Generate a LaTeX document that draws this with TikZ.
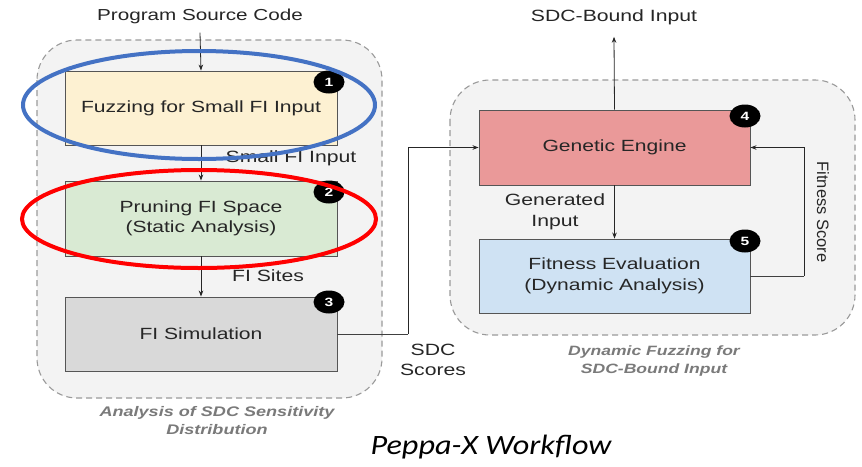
\documentclass[tikz,border=0pt]{standalone}
\usepackage{fontspec}
\setmainfont[FakeStretch=1.3]{Liberation Sans}
\newfontfamily\plainsans{Liberation Sans}
\newfontfamily\capfont[FakeStretch=1.15]{Carlito}
\usetikzlibrary{arrows.meta,calc,shapes.geometric}
\definecolor{panelfill}{HTML}{F3F3F3}
\definecolor{panelline}{HTML}{9A9A9A}
\definecolor{fuzzfill}{HTML}{FDF1D2}
\definecolor{prunefill}{HTML}{D9EAD3}
\definecolor{simfill}{HTML}{D9D9D9}
\definecolor{genfill}{HTML}{EA9999}
\definecolor{evalfill}{HTML}{CFE2F3}
\definecolor{boxline}{HTML}{555555}
\definecolor{capgray}{HTML}{7A7A7A}
\definecolor{ringblue}{HTML}{4472C4}
\definecolor{ringred}{HTML}{FF0000}
\tikzset{
  panel/.style={draw=panelline, fill=panelfill, line width=1.1pt, dash pattern=on 6pt off 4pt, rounded corners=40pt},
  stagebox/.style={draw=boxline, line width=0.9pt, minimum width=272pt, minimum height=74pt, align=center, inner sep=0pt,
    font=\fontsize{16.2}{20.5}\selectfont, text=black!85},
  badge/.style={ellipse, fill=black, text=white, minimum width=31pt, minimum height=23pt, inner sep=0pt,
    font=\bfseries\fontsize{12}{12}\selectfont},
  lbl/.style={font=\fontsize{16.3}{20.5}\selectfont, text=black!85, align=center, inner sep=0pt},
  groupcap/.style={font=\bfseries\itshape\fontsize{13.5}{17.5}\selectfont, text=capgray, align=center, inner sep=0pt},
  arr/.style={draw=black!85, line width=0.8pt, -{Stealth[length=6pt,width=4.5pt]}},
  wire/.style={draw=black!75, line width=0.8pt},
  ring/.style={line width=4pt}
}
\begin{document}
\begin{tikzpicture}[x=1pt,y=-1pt]
\useasboundingbox (0,0) rectangle (862,466);
\fill[white] (0,0) rectangle (862,466);

% dashed group panels
\draw[panel] (37,40) rectangle (382,398);
\draw[panel] (450,80) rectangle (855,335);

% left column: static analysis stages
\node[stagebox, fill=fuzzfill]  (b1) at (201,108) {Fuzzing for Small FI Input};
\node[stagebox, fill=prunefill, minimum height=75pt] (b2) at (201,218.5) {Pruning FI Space\\(Static Analysis)};
\node[stagebox, fill=simfill]   (b3) at (201,334) {FI Simulation};

% right column: dynamic fuzzing stages
\node[stagebox, fill=genfill, minimum width=271pt, minimum height=75pt] (b4) at (614.5,147.5) {Genetic Engine};
\node[stagebox, fill=evalfill, minimum width=271pt] (b5) at (614.5,276) {Fitness Evaluation\\(Dynamic Analysis)};

% input / output labels
\node[lbl, font=\fontsize{15.9}{20}\selectfont] (src) at (200,16) {Program Source Code};
\node[lbl] (out) at (614,17) {SDC-Bound Input};

% flow in the left column
\draw[arr] ([yshift=-9pt]src.south) -- (b1.north);
\draw[arr] (b1.south) -- (b2.north);
\node[lbl] (lsmall) at (291,158) {Small FI Input};
\draw[arr] (b2.south) -- (b3.north);
\node[lbl] (lsites) at (268,276) {FI Sites};

% SDC scores into the genetic engine
\coordinate (sx) at (408,0);
\draw[wire] (b3.east) -- (b3.east -| sx);
\draw[arr] (b3.east -| sx) |- (b4.west);
\node[lbl] (lscores) at (433,360) {SDC\\Scores};

% genetic loop
\draw[arr] (b4.north) -- ([yshift=-12pt]out.south);
\draw[arr] (b4.south) -- (b5.north);
\node[lbl] (lgen) at (555,212) {Generated\\Input};
\coordinate (fx) at (804,0);
\draw[wire] (b5.east) -- (b5.east -| fx);
\draw[arr] (b5.east -| fx) |- (b4.east);
\node[lbl, font=\plainsans\fontsize{16.5}{20}\selectfont, rotate=-90] (lfit) at (823,212) {Fitness Score};

% panel captions
\node[groupcap, font=\bfseries\itshape\fontsize{13.9}{17.5}\selectfont] (capl) at (217,420.5) {Analysis of SDC Sensitivity\\Distribution};
\node[groupcap] (capr) at (654,361) {Dynamic Fuzzing for\\SDC-Bound Input};

% step badges
\node[badge] (n1) at (329,82) {1};
\node[badge] (n2) at (329,192) {2};
\node[badge] (n3) at (329,302) {3};
\node[badge] (n4) at (745,116) {4};
\node[badge] (n5) at (745,241) {5};

% highlight rings
\draw[ring, ringblue] (199,105) ellipse [x radius=176, y radius=54];
\draw[ring, ringred] (199,219) ellipse [x radius=177, y radius=49];

% title
\node[font=\capfont\itshape\fontsize{28}{32}\selectfont, inner sep=0pt] (title) at (491,447) {Peppa-X Workflow};
\end{tikzpicture}
\end{document}
